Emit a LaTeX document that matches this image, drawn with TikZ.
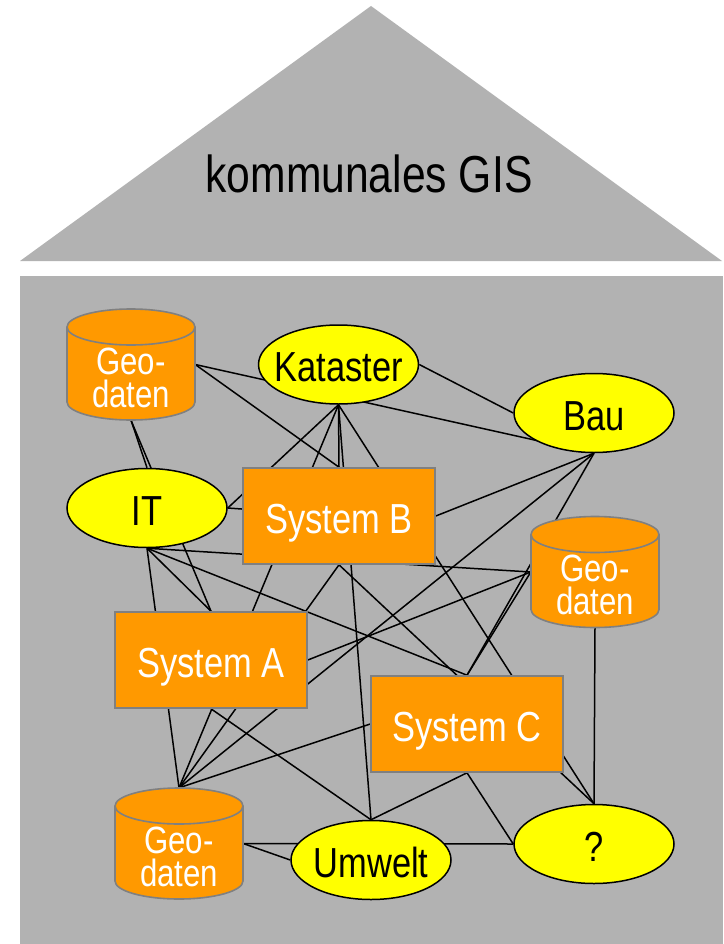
\documentclass[tikz,border=0pt]{standalone}
\usepackage{fontspec}
\newfontfamily\narrowsans{Liberation Sans}[FakeStretch=0.82]
\usetikzlibrary{shapes.geometric}

\pgfdeclarelayer{house}
\pgfdeclarelayer{links}
\pgfsetlayers{house,links,main}

\definecolor{wallgray}{RGB}{178,178,178}
\definecolor{boxorange}{RGB}{255,153,0}
\definecolor{rimgray}{RGB}{128,128,128}
\definecolor{ovalyellow}{RGB}{255,255,0}

\tikzset{
  sysbox/.style={rectangle, fill=boxorange, draw=rimgray, line width=1.6pt,
    minimum width=192pt, minimum height=96pt, inner sep=0pt, text=white,
    font=\narrowsans\fontsize{42}{42}\selectfont, text height=34pt, text depth=0pt},
  topic/.style={ellipse, fill=ovalyellow, draw=black, line width=1.5pt,
    minimum width=160pt, minimum height=79pt, inner sep=0pt,
    font=\narrowsans\fontsize{42}{42}\selectfont, text height=34pt, text depth=0pt},
  dbframe/.style={rectangle, minimum width=128pt, minimum height=111pt, inner sep=0pt},
  dbtext/.style={align=center, text=white, inner sep=0pt,
    font=\narrowsans\fontsize{38}{33}\selectfont},
  dbbody/.style={fill=boxorange, draw=rimgray, line width=1.6pt},
  dbrim/.style={draw=rimgray, line width=1.6pt},
  rooftext/.style={font=\narrowsans\fontsize{52}{52}\selectfont, inner sep=0pt},
  link/.style={draw=black, line width=1.5pt},
}

% database cylinder: name, centre x, centre y
\newcommand\geodb[3]{%
  \path[dbbody] (#2-64,#3-37.5) -- (#2-64,#3+37.5)
    arc[start angle=180, end angle=360, x radius=64pt, y radius=18pt]
    -- (#2+64,#3-37.5)
    arc[start angle=0, end angle=180, x radius=64pt, y radius=18pt] -- cycle;
  \path[dbrim] (#2-64,#3-37.5)
    arc[start angle=180, end angle=360, x radius=64pt, y radius=18pt];
  \node[dbframe] (#1) at (#2,#3) {};
  \node[dbtext] (#1-label) at (#2,#3+13) {Geo-\\daten};
}

\begin{document}
\begin{tikzpicture}[x=1pt, y=-1pt]
  \useasboundingbox (0,0) rectangle (723,944);

  % house: roof and wall
  \begin{pgfonlayer}{house}
    \fill[white] (0,0) rectangle (723,944);
    \fill[wallgray] (371,6) -- (722,261) -- (20,261) -- cycle;
    \fill[wallgray] (20,276) rectangle (723,944);
  \end{pgfonlayer}
  \node[rooftext, anchor=base] (title) at (369,193) {kommunales GIS};

  % data stores
  \geodb{geo1}{131}{364.5}
  \geodb{geo2}{595}{572}
  \geodb{geo3}{179}{843.5}

  % departments
  \node[topic] (kat) at (338.5,364.5) {\makebox[0pt]{Kataster}};
  \node[topic] (bau) at (594,413) {\makebox[0pt]{Bau}};
  \node[topic] (it)  at (147,508) {\makebox[0pt]{IT}};
  \node[topic] (umw) at (371,860) {\makebox[0pt]{Umwelt}};
  \node[topic] (q)   at (594,844) {\makebox[0pt]{?}};

  % systems
  \node[sysbox] (sysB) at (339,516) {System B};
  \node[sysbox] (sysA) at (211,660) {System A};
  \node[sysbox] (sysC) at (467,724) {System C};

  % the tangle of interfaces
  \begin{pgfonlayer}{links}
    \draw[link] (geo1.east) -- (bau.south);
    \draw[link] (geo1.east) -- (sysB.north);
    \draw[link] (geo1.south) -- (it.north);
    \draw[link] (geo1.south) -- (sysA.north);
    \draw[link] (kat.east) -- (bau.west);
    \draw[link] (kat.south) -- (it.east);
    \draw[link] (kat.south) -- (geo3.north);
    \draw[link] (kat.south) -- (sysB.north);
    \draw[link] (kat.south) -- (umw.north);
    \draw[link] (kat.south) -- (q.north);
    \draw[link] (it.east) -- (sysB.center);
    \draw[link] (it.south) -- (geo2.west);
    \draw[link] (it.south) -- (geo3.north);
    \draw[link] (it.south) -- (sysA.north);
    \draw[link] (it.south) -- (sysC.north);
    \draw[link] (bau.south) -- (sysB.east);
    \draw[link] (bau.south) -- (geo3.north);
    \draw[link] (bau.south) -- (sysC.north);
    \draw[link] (sysB.south) -- (geo3.north);
    \draw[link] (sysB.south) -- (q.north);
    \draw[link] (sysA.east) -- (geo2.west);
    \draw[link] (geo2.west) -- (sysC.north);
    \draw[link] (geo2.south) -- (q.north);
    \draw[link] (sysA.south) -- (umw.north);
    \draw[link] (sysC.west) -- (geo3.north);
    \draw[link] (sysC.south) -- (umw.north);
    \draw[link] (sysC.south) -- (q.west);
    \draw[link] (geo3.east) -- (umw.west);
    \draw[link] (geo3.east) -- (q.west);
  \end{pgfonlayer}
\end{tikzpicture}
\end{document}
